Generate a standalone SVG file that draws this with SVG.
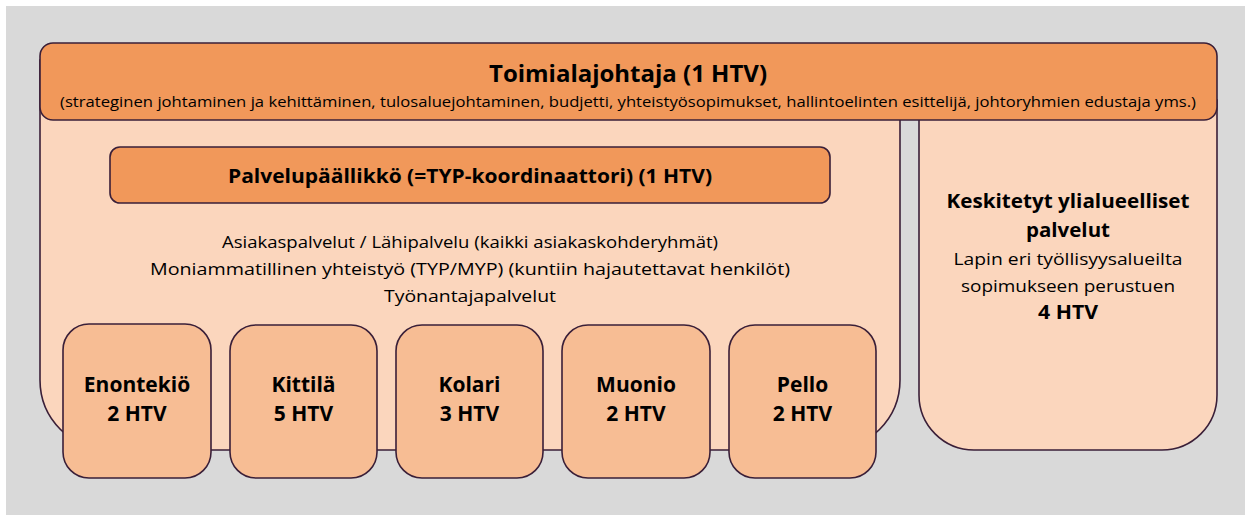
<svg xmlns="http://www.w3.org/2000/svg" width="1245" height="515" viewBox="0 0 1245 515">
<style>
.ln{stroke:#3a1f38;stroke-width:1.6}
.dark{fill:#f1985a}
.light{fill:#fbd6bd}
.mid{fill:#f7bd94}
text{font-family:"Open Sans","Liberation Sans",sans-serif;fill:#000;text-anchor:middle}
.b{font-weight:bold}
.lbl{font-weight:bold;font-size:21px}
</style>
<rect x="6" y="6" width="1239" height="509" fill="#d9d9d9"/>
<g id="left-area">
<path class="light ln" d="M40,60 H900 V380 A70,70 0 0 1 830,450 H110 A70,70 0 0 1 40,380 Z"/>
</g>
<g id="right-area">
<path class="light ln" d="M919,100 H1217 V395 A55,55 0 0 1 1162,450 H974 A55,55 0 0 1 919,395 Z"/>
<text class="b" x="1068" y="208" font-size="20" textLength="243" lengthAdjust="spacingAndGlyphs">Keskitetyt ylialueelliset</text>
<text class="b" x="1068" y="237" font-size="20" textLength="84" lengthAdjust="spacingAndGlyphs">palvelut</text>
<text x="1068" y="265" font-size="17" textLength="229" lengthAdjust="spacingAndGlyphs">Lapin eri työllisyysalueilta</text>
<text x="1068" y="292" font-size="17" textLength="214" lengthAdjust="spacingAndGlyphs">sopimukseen  perustuen</text>
<text class="b" x="1068" y="319" font-size="20" textLength="60" lengthAdjust="spacingAndGlyphs">4 HTV</text>
</g>
<g id="toimialajohtaja">
<rect class="dark ln" x="40" y="43" width="1177" height="77" rx="13"/>
<text class="b" x="628" y="82" font-size="24" textLength="278" lengthAdjust="spacingAndGlyphs">Toimialajohtaja (1 HTV)</text>
<text x="628" y="107" font-size="15" textLength="1136" lengthAdjust="spacingAndGlyphs">(strateginen johtaminen ja kehittäminen, tulosaluejohtaminen, budjetti, yhteistyösopimukset, hallintoelinten esittelijä, johtoryhmien edustaja yms.)</text>
</g>
<g id="palvelupaallikko">
<rect class="dark ln" x="110" y="147" width="720" height="56" rx="10"/>
<text class="b" x="470" y="183" font-size="20" textLength="484" lengthAdjust="spacingAndGlyphs">Palvelupäällikkö (=TYP-koordinaattori) (1 HTV)</text>
</g>
<g id="services-text">
<text x="470" y="248" font-size="17" textLength="496" lengthAdjust="spacingAndGlyphs">Asiakaspalvelut / Lähipalvelu (kaikki asiakaskohderyhmät)</text>
<text x="470" y="275" font-size="17" textLength="640" lengthAdjust="spacingAndGlyphs">Moniammatillinen yhteistyö (TYP/MYP) (kuntiin hajautettavat henkilöt)</text>
<text x="470" y="302" font-size="17" textLength="172" lengthAdjust="spacingAndGlyphs">Työnantajapalvelut</text>
</g>
<g id="enontekio">
<rect class="mid ln" x="63" y="324" width="148" height="154" rx="26"/>
<text class="lbl" x="137" y="392">Enontekiö</text>
<text class="lbl" x="137" y="421">2 HTV</text>
</g>
<g id="kittila">
<rect class="mid ln" x="230" y="325" width="147" height="153" rx="26"/>
<text class="lbl" x="303.5" y="392">Kittilä</text>
<text class="lbl" x="303.5" y="421">5 HTV</text>
</g>
<g id="kolari">
<rect class="mid ln" x="396" y="325" width="147" height="153" rx="26"/>
<text class="lbl" x="469.5" y="392">Kolari</text>
<text class="lbl" x="469.5" y="421">3 HTV</text>
</g>
<g id="muonio">
<rect class="mid ln" x="562" y="325" width="148" height="153" rx="26"/>
<text class="lbl" x="636" y="392">Muonio</text>
<text class="lbl" x="636" y="421">2 HTV</text>
</g>
<g id="pello">
<rect class="mid ln" x="729" y="325" width="147" height="153" rx="26"/>
<text class="lbl" x="802.5" y="392">Pello</text>
<text class="lbl" x="802.5" y="421">2 HTV</text>
</g>
<g id="connectors"></g>
</svg>
